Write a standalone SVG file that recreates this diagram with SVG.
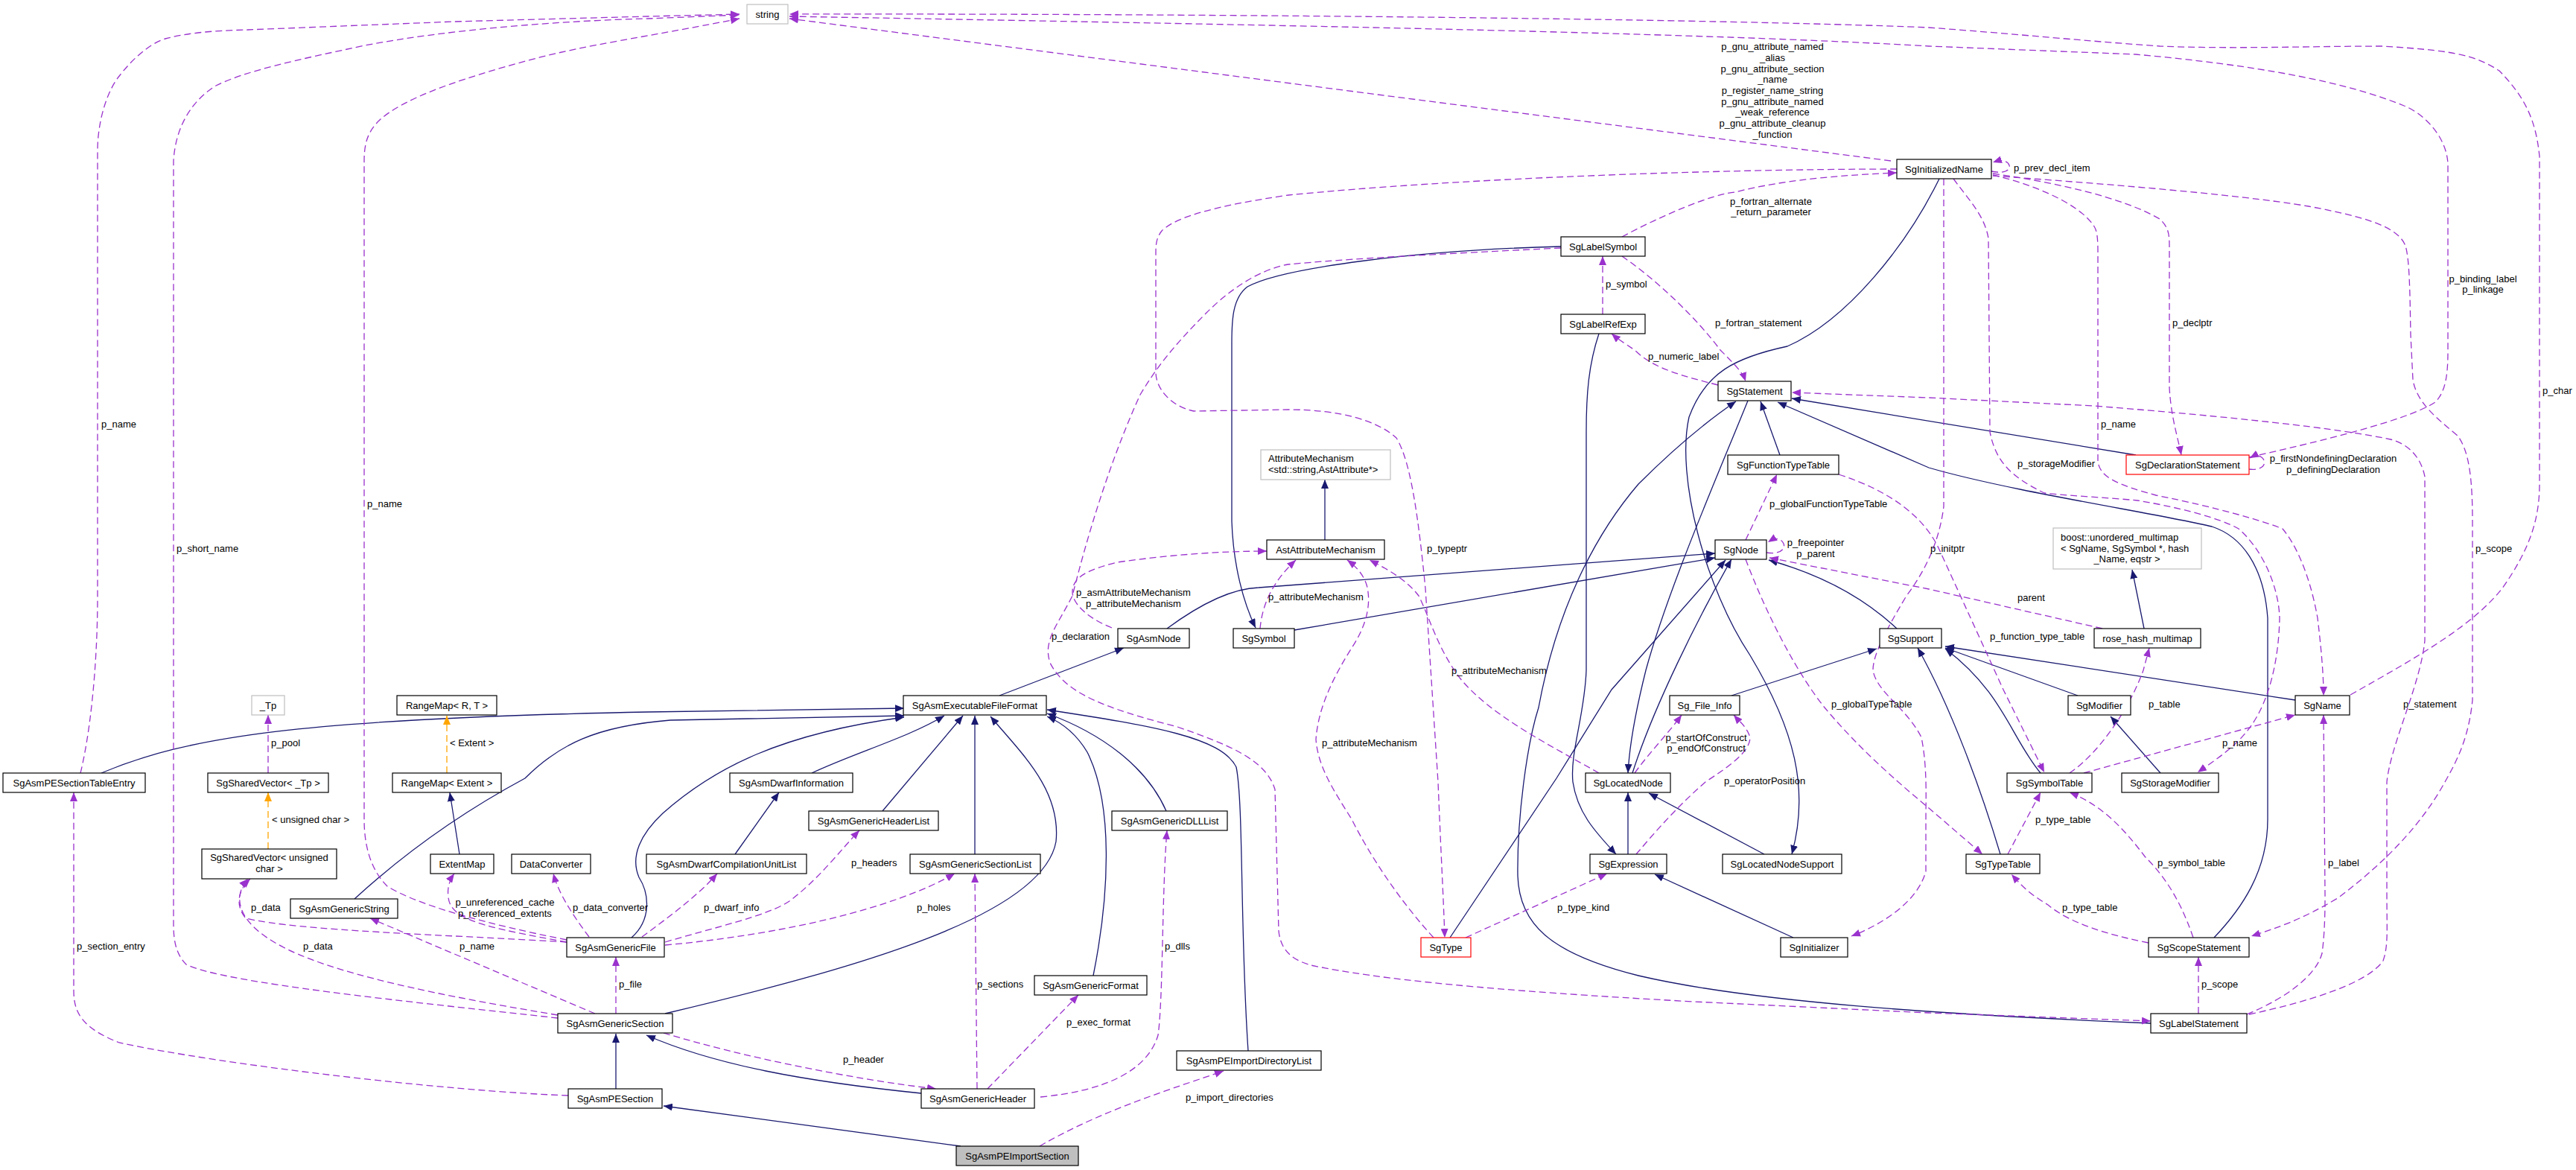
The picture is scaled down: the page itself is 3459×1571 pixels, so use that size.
<svg xmlns="http://www.w3.org/2000/svg" width="3459" height="1571" viewBox="0 0 3459 1571">
<defs>
<style>
.nd rect{fill:#fff;stroke:#000;stroke-width:1.2}
.nd.g rect{stroke:#bfbfbf}
.nd.r rect{stroke:#ff0000}
.nd.f rect{fill:#bfbfbf}
text{font-family:"Liberation Sans",Arial,sans-serif;font-size:13px;fill:#000}
.nd text{text-anchor:middle}
.e{fill:none;stroke:#191970;stroke-width:1.3;marker-end:url(#mN)}
.d{fill:none;stroke:#9a32cd;stroke-width:1.3;stroke-dasharray:9,5;marker-end:url(#mP)}
.o{fill:none;stroke:#ffa500;stroke-width:1.3;stroke-dasharray:9,5;marker-end:url(#mO)}
.c{text-anchor:middle}
</style>
<marker id="mN" markerWidth="12" markerHeight="10" refX="12" refY="5" orient="auto" markerUnits="userSpaceOnUse"><path d="M0,0 L12,5 L0,10 z" fill="#191970"/></marker>
<marker id="mP" markerWidth="12" markerHeight="10" refX="12" refY="5" orient="auto" markerUnits="userSpaceOnUse"><path d="M0,0 L12,5 L0,10 z" fill="#9a32cd"/></marker>
<marker id="mO" markerWidth="12" markerHeight="10" refX="12" refY="5" orient="auto" markerUnits="userSpaceOnUse"><path d="M0,0 L12,5 L0,10 z" fill="#ffa500"/></marker>
</defs>
<rect width="3459" height="1571" fill="#fff"/>
<g id="connectors">
<!-- inheritance -->
<path class="e" d="M1290,1539 L891,1485"/>
<path class="e" d="M827,1462 L827,1388"/>
<path class="e" d="M1237,1468 C1080,1452 960,1430 868,1390"/>
<path class="e" d="M893,1361 C1150,1300 1400,1230 1418,1130 C1425,1060 1370,1010 1330,962"/>
<path class="e" d="M848,1259 C875,1235 872,1200 858,1178 C846,1150 860,1120 890,1092 C960,1030 1050,985 1214,963"/>
<path class="e" d="M476,1207 C560,1130 640,1080 705,1045 C750,1000 800,975 900,967 L1214,961"/>
<path class="e" d="M136,1038 C250,990 400,965 870,956 L1214,951"/>
<path class="e" d="M1090,1038 C1150,1010 1220,990 1268,961"/>
<path class="e" d="M1185,1089 L1293,961"/>
<path class="e" d="M1309,1147 L1309,961"/>
<path class="e" d="M1468,1310 C1490,1200 1495,1080 1460,1010 C1445,985 1425,970 1406,962"/>
<path class="e" d="M1566,1089 C1540,1030 1480,985 1406,958"/>
<path class="e" d="M1676,1411 C1665,1250 1670,1080 1660,1030 C1640,990 1550,975 1406,953"/>
<path class="e" d="M1342,934 L1509,870"/>
<path class="e" d="M1567,844 C1620,805 1660,790 1690,789 L2303,743"/>
<path class="e" d="M1738,846 L2303,749"/>
<path class="e" d="M1779,725 L1779,644"/>
<path class="e" d="M987,1147 L1046,1064"/>
<path class="e" d="M617,1147 L604,1064"/>
<path class="e" d="M2096,331 C1900,336 1720,360 1675,385 C1655,400 1654,430 1654,460 L1654,700 C1656,760 1670,810 1686,843"/>
<path class="e" d="M2147,448 C2133,490 2130,530 2130,580 L2130,900 C2128,960 2108,1010 2112,1050 C2118,1090 2140,1115 2170,1147"/>
<path class="e" d="M2347,538 C2310,630 2240,790 2210,900 C2195,960 2188,1000 2186,1038"/>
<path class="e" d="M2192,1038 C2220,950 2280,830 2325,751"/>
<path class="e" d="M1947,1259 L2090,1045 L2164,926 L2317,752"/>
<path class="e" d="M2390,611 L2364,539"/>
<path class="e" d="M2547,844 C2500,800 2440,770 2375,752"/>
<path class="e" d="M2973,1259 C3010,1220 3045,1170 3045,1100 L3045,830 C3040,760 3010,720 2970,707 C2900,690 2700,660 2590,628 L2387,540"/>
<path class="e" d="M2868,611 L2406,535"/>
<path class="e" d="M2888,1374 C2600,1362 2350,1345 2200,1310 C2080,1280 2040,1240 2038,1176 C2037,1100 2050,1000 2066,950 C2090,820 2140,720 2200,650 C2260,590 2300,560 2331,539"/>
<path class="e" d="M2604,240 C2560,330 2480,430 2400,465 C2330,480 2290,500 2268,560 C2250,640 2290,790 2350,880 C2410,980 2430,1060 2406,1147"/>
<path class="e" d="M2186,1147 L2186,1064"/>
<path class="e" d="M2369,1147 L2214,1065"/>
<path class="e" d="M2408,1259 L2222,1174"/>
<path class="e" d="M2325,934 L2520,871"/>
<path class="e" d="M2686,1147 C2660,1060 2620,950 2575,870"/>
<path class="e" d="M2740,1038 C2700,990 2690,930 2612,871"/>
<path class="e" d="M2790,934 L2612,870"/>
<path class="e" d="M3082,940 L2612,868"/>
<path class="e" d="M2901,1038 L2834,962"/>
<path class="e" d="M2879,844 L2863,765"/>
<!-- template -->
<path class="o" d="M600,1038 L600,961"/>
<path class="o" d="M360,1140 L360,1064"/>
<!-- usage -->
<path class="d" d="M1396,1539 C1480,1490 1580,1460 1643,1438"/>
<path class="d" d="M763,1471 C600,1465 300,1430 160,1400 C110,1380 99,1360 99,1330 L99,1064"/>
<path class="d" d="M891,1387 C1000,1420 1150,1450 1257,1462"/>
<path class="d" d="M1312,1462 L1309,1173"/>
<path class="d" d="M1326,1462 L1448,1336"/>
<path class="d" d="M1397,1473 C1480,1465 1540,1440 1555,1390 C1562,1340 1560,1200 1567,1115"/>
<path class="d" d="M893,1265 C960,1245 1030,1230 1060,1210 C1100,1180 1130,1140 1154,1115"/>
<path class="d" d="M862,1258 C900,1230 940,1200 963,1173"/>
<path class="d" d="M893,1269 C1050,1255 1200,1220 1282,1173"/>
<path class="d" d="M827,1361 L827,1285"/>
<path class="d" d="M761,1265 C650,1245 605,1235 602,1205 C600,1190 605,1180 610,1173"/>
<path class="d" d="M791,1258 C770,1230 750,1200 743,1173"/>
<path class="d" d="M761,1265 C600,1255 400,1250 330,1233 C315,1215 320,1195 336,1180"/>
<path class="d" d="M749,1363 C550,1330 420,1300 360,1260 C315,1230 315,1200 333,1180"/>
<path class="d" d="M799,1361 L497,1233"/>
<path class="d" d="M749,1367 C550,1345 300,1320 250,1295 C235,1280 233,1260 233,1240 L233,216 C235,180 250,140 290,115 C330,95 400,80 490,61 C600,40 750,28 870,25 L993,20"/>
<path class="d" d="M761,1262 C650,1240 560,1215 520,1190 C495,1165 489,1130 489,1100 L489,216 C489,190 495,175 511,160 C540,135 600,110 721,78 C790,60 860,51 993,25"/>
<path class="d" d="M108,1038 C120,990 131,900 131,800 L131,203 C131,160 145,120 161,101 C185,70 210,55 222,52 C260,42 300,41 333,40 L610,29 L870,22 L993,19"/>
<path class="d" d="M360,1038 L360,960"/>
<path class="d" d="M2539,216 L1060,25"/>
<path class="d" d="M3020,614 C3150,585 3240,560 3270,540 C3285,525 3287,500 3287,470 L3287,220 C3285,180 3250,150 3228,142 C3150,110 3034,88 2868,73 L2590,62 C2300,45 1800,35 1060,22"/>
<path class="d" d="M3156,933 C3250,880 3320,840 3360,790 C3395,740 3410,700 3410,650 L3410,210 C3405,160 3390,130 3356,95 C3320,72 3290,68 3200,62 C3100,62 3000,66 2900,62 C2800,55 2700,45 2590,37 C2300,25 1600,18 1060,19"/>
<path class="d" d="M2674,230 C2692,234 2700,228 2698,222 C2696,216 2688,214 2676,218"/>
<path class="d" d="M2178,318 C2230,290 2300,260 2330,258 C2400,240 2480,235 2547,232"/>
<path class="d" d="M2547,227 C2300,227 1950,240 1730,262 C1640,275 1580,290 1560,310 C1552,320 1552,330 1552,340 L1552,500 C1552,520 1570,545 1603,552 L1730,550 C1800,550 1850,565 1875,588 C1895,620 1905,700 1914,790 L1931,1050 C1935,1150 1938,1200 1940,1259"/>
<path class="d" d="M2096,333 C1950,340 1800,348 1730,355 C1690,362 1650,390 1620,420 C1580,460 1555,490 1531,530 C1490,620 1460,720 1440,800 C1420,840 1400,860 1410,890 C1430,930 1480,950 1581,976 C1650,1000 1700,1020 1712,1060 L1717,1250 C1720,1280 1740,1290 1760,1296 C1850,1315 2000,1330 2275,1345 L2590,1360 L2888,1371"/>
<path class="d" d="M2152,422 L2152,344"/>
<path class="d" d="M2178,344 C2230,380 2280,430 2310,470 C2330,490 2340,500 2344,512"/>
<path class="d" d="M2307,517 C2260,505 2220,495 2195,470 C2180,460 2172,455 2164,448"/>
<path class="d" d="M3020,1362 C3100,1345 3180,1320 3200,1290 C3207,1270 3205,1250 3205,1200 L3205,1050 C3210,1000 3250,920 3256,860 L3256,640 C3250,610 3230,595 3210,590 C3140,575 3000,560 2812,545 L2590,534 L2406,527"/>
<path class="d" d="M3017,1362 C3070,1340 3110,1310 3118,1280 C3122,1250 3122,1220 3122,1200 L3120,960"/>
<path class="d" d="M2952,1361 L2952,1285"/>
<path class="d" d="M2676,236 C2800,245 3000,260 3100,277 C3180,292 3220,305 3230,330 C3236,350 3236,400 3237,450 L3240,510 C3245,540 3270,560 3300,585 C3315,605 3320,640 3320,700 L3320,940 C3315,990 3300,1020 3283,1050 C3250,1110 3200,1160 3139,1206 C3090,1235 3060,1245 3023,1257"/>
<path class="d" d="M2945,1259 C2925,1200 2900,1170 2880,1150 C2850,1110 2820,1080 2779,1064"/>
<path class="d" d="M2885,1266 C2830,1255 2780,1240 2750,1215 C2725,1200 2715,1190 2701,1174"/>
<path class="d" d="M2696,1147 L2740,1064"/>
<path class="d" d="M2344,751 C2370,820 2410,900 2450,950 C2500,1010 2560,1060 2590,1085 L2662,1147"/>
<path class="d" d="M2344,725 L2386,637"/>
<path class="d" d="M2372,742 C2390,745 2398,737 2395,730 C2392,723 2385,721 2374,728"/>
<path class="d" d="M2823,844 L2590,791 L2376,749"/>
<path class="d" d="M2469,637 C2540,660 2585,695 2605,740 L2690,926 L2745,1037"/>
<path class="d" d="M2610,240 L2610,680 C2605,720 2590,760 2560,800 C2530,850 2515,880 2515,900 C2520,930 2560,950 2580,990 C2588,1030 2586,1070 2586,1100 L2586,1170 C2575,1210 2530,1240 2486,1257"/>
<path class="d" d="M2676,233 C2760,245 2850,265 2900,294 C2912,305 2913,315 2913,330 L2913,520 C2915,560 2925,590 2929,611"/>
<path class="d" d="M2676,235 C2720,245 2790,270 2812,304 C2816,310 2817,320 2817,340 L2817,620 C2820,640 2840,650 2895,665 C2980,682 3040,700 3065,710 C3090,740 3105,790 3112,830 C3118,880 3120,910 3120,934"/>
<path class="d" d="M2623,240 C2645,270 2665,290 2670,320 L2672,580 C2680,620 2700,640 2745,662 C2780,666 2830,668 2870,672 C2920,680 2980,695 3006,710 C3040,740 3060,790 3061,830 C3060,880 3050,920 3039,945 C3020,990 2990,1010 2951,1037"/>
<path class="d" d="M3020,630 C3035,632 3043,625 3040,618 C3037,612 3030,610 3021,615"/>
<path class="d" d="M2195,1038 C2215,1010 2240,985 2258,960"/>
<path class="d" d="M2197,1147 C2220,1120 2250,1085 2290,1050 C2320,1030 2350,1010 2350,990 C2345,975 2335,968 2328,960"/>
<path class="d" d="M1968,1259 L2158,1173"/>
<path class="d" d="M1925,1259 C1880,1210 1840,1150 1815,1100 C1790,1060 1770,1030 1767,993 C1770,950 1790,910 1815,870 C1835,840 1842,810 1835,785 C1830,770 1820,760 1809,752"/>
<path class="d" d="M2147,1038 C2080,1000 2000,960 1960,910 C1930,870 1920,830 1905,800 C1890,780 1865,765 1839,752"/>
<path class="d" d="M1692,844 C1695,810 1710,780 1740,752"/>
<path class="d" d="M1493,843 C1460,830 1440,810 1440,795 C1440,775 1460,765 1500,755 C1570,745 1640,740 1701,740"/>
<path class="d" d="M2779,1038 C2820,1010 2860,950 2878,900 L2886,870"/>
<path class="d" d="M2798,1038 L3082,960"/>
</g>
<g id="edge-labels">
<text x="136" y="574">p_name</text>
<text x="237" y="741">p_short_name</text>
<text x="493" y="681">p_name</text>
<text x="364" y="1002">p_pool</text>
<text x="604" y="1002">&lt; Extent &gt;</text>
<text x="365" y="1105">&lt; unsigned char &gt;</text>
<text x="337" y="1223">p_data</text>
<text class="c" x="678" y="1216">p_unreferenced_cache</text>
<text class="c" x="678" y="1231">p_referenced_extents</text>
<text x="769" y="1223">p_data_converter</text>
<text x="945" y="1223">p_dwarf_info</text>
<text x="1231" y="1223">p_holes</text>
<text x="1143" y="1163">p_headers</text>
<text x="103" y="1275">p_section_entry</text>
<text x="407" y="1275">p_data</text>
<text x="617" y="1275">p_name</text>
<text x="1564" y="1275">p_dlls</text>
<text x="831" y="1326">p_file</text>
<text x="1312" y="1326">p_sections</text>
<text x="1432" y="1377">p_exec_format</text>
<text x="1132" y="1427">p_header</text>
<text x="1592" y="1478">p_import_directories</text>
<text x="1412" y="859">p_declaration</text>
<text class="c" x="1522" y="800">p_asmAttributeMechanism</text>
<text class="c" x="1522" y="815">p_attributeMechanism</text>
<text x="1703" y="806">p_attributeMechanism</text>
<text x="1916" y="741">p_typeptr</text>
<text x="1949" y="905">p_attributeMechanism</text>
<text x="1775" y="1002">p_attributeMechanism</text>
<text x="2091" y="1223">p_type_kind</text>
<text x="2376" y="681">p_globalFunctionTypeTable</text>
<text class="c" x="2438" y="733">p_freepointer</text>
<text class="c" x="2438" y="748">p_parent</text>
<text class="c" x="2291" y="995">p_startOfConstruct</text>
<text class="c" x="2291" y="1009">p_endOfConstruct</text>
<text x="2459" y="950">p_globalTypeTable</text>
<text x="2315" y="1053">p_operatorPosition</text>
<text x="2156" y="386">p_symbol</text>
<text x="2303" y="438">p_fortran_statement</text>
<text x="2213" y="483">p_numeric_label</text>
<text class="c" x="2378" y="275">p_fortran_alternate</text>
<text class="c" x="2378" y="289">_return_parameter</text>
<text class="c" x="2380" y="67">p_gnu_attribute_named</text>
<text class="c" x="2380" y="82">_alias</text>
<text class="c" x="2380" y="97">p_gnu_attribute_section</text>
<text class="c" x="2380" y="111">_name</text>
<text class="c" x="2380" y="126">p_register_name_string</text>
<text class="c" x="2380" y="141">p_gnu_attribute_named</text>
<text class="c" x="2380" y="155">_weak_reference</text>
<text class="c" x="2380" y="170">p_gnu_attribute_cleanup</text>
<text class="c" x="2380" y="185">_function</text>
<text x="2704" y="230">p_prev_decl_item</text>
<text class="c" x="3334" y="379">p_binding_label</text>
<text class="c" x="3334" y="393">p_linkage</text>
<text x="2917" y="438">p_declptr</text>
<text x="3414" y="529">p_char</text>
<text x="2821" y="574">p_name</text>
<text x="2709" y="627">p_storageModifier</text>
<text class="c" x="3133" y="620">p_firstNondefiningDeclaration</text>
<text class="c" x="3133" y="635">p_definingDeclaration</text>
<text x="2592" y="741">p_initptr</text>
<text x="3324" y="741">p_scope</text>
<text x="2709" y="807">parent</text>
<text x="2672" y="859">p_function_type_table</text>
<text x="2885" y="950">p_table</text>
<text x="3227" y="950">p_statement</text>
<text x="2984" y="1002">p_name</text>
<text x="2733" y="1105">p_type_table</text>
<text x="2897" y="1163">p_symbol_table</text>
<text x="3126" y="1163">p_label</text>
<text x="2769" y="1223">p_type_table</text>
<text x="2956" y="1326">p_scope</text>
</g>
<g id="n_string" class="nd g"><rect x="1003" y="6" width="55" height="26"/><text x="1030.5" y="23.5">string</text></g>
<g id="n_SgInitializedName" class="nd"><rect x="2547" y="214" width="127" height="26"/><text x="2610.5" y="231.5">SgInitializedName</text></g>
<g id="n_SgLabelSymbol" class="nd"><rect x="2096" y="318" width="113" height="26"/><text x="2152.5" y="335.5">SgLabelSymbol</text></g>
<g id="n_SgLabelRefExp" class="nd"><rect x="2096" y="422" width="113" height="26"/><text x="2152.5" y="439.5">SgLabelRefExp</text></g>
<g id="n_SgStatement" class="nd"><rect x="2307" y="512" width="98" height="26"/><text x="2356" y="529.5">SgStatement</text></g>
<g id="n_SgFunctionTypeTable" class="nd"><rect x="2320" y="611" width="149" height="26"/><text x="2394.5" y="628.5">SgFunctionTypeTable</text></g>
<g id="n_SgDeclarationStatement" class="nd r"><rect x="2855" y="611" width="165" height="26"/><text x="2937.5" y="628.5">SgDeclarationStatement</text></g>
<g id="n_AttributeMechanism" class="nd g"><rect x="1693" y="604" width="174" height="40"/><text x="1703" y="620" style="text-anchor:start">AttributeMechanism</text><text x="1703" y="635" style="text-anchor:start">&lt;std::string,AstAttribute*&gt;</text></g>
<g id="n_AstAttributeMechanism" class="nd"><rect x="1701" y="725" width="158" height="26"/><text x="1780" y="742.5">AstAttributeMechanism</text></g>
<g id="n_SgNode" class="nd"><rect x="2303" y="725" width="69" height="26"/><text x="2337.5" y="742.5">SgNode</text></g>
<g id="n_boost_unordered_multimap" class="nd g"><rect x="2757" y="709" width="199" height="55"/><text x="2767" y="726" style="text-anchor:start">boost::unordered_multimap</text><text x="2767" y="741" style="text-anchor:start">&lt; SgName, SgSymbol *, hash</text><text x="2856" y="755">_Name, eqstr &gt;</text></g>
<g id="n_SgAsmNode" class="nd"><rect x="1501" y="844" width="96" height="26"/><text x="1549" y="861.5">SgAsmNode</text></g>
<g id="n_SgSymbol" class="nd"><rect x="1656" y="844" width="82" height="26"/><text x="1697" y="861.5">SgSymbol</text></g>
<g id="n_SgSupport" class="nd"><rect x="2524" y="844" width="83" height="26"/><text x="2565.5" y="861.5">SgSupport</text></g>
<g id="n_rose_hash_multimap" class="nd"><rect x="2812" y="844" width="143" height="26"/><text x="2883.5" y="861.5">rose_hash_multimap</text></g>
<g id="n_Tp" class="nd g"><rect x="338" y="934" width="44" height="26"/><text x="360" y="951.5">_Tp</text></g>
<g id="n_RangeMap_R_T" class="nd"><rect x="533" y="934" width="134" height="26"/><text x="600" y="951.5">RangeMap&lt; R, T &gt;</text></g>
<g id="n_SgAsmExecutableFileFormat" class="nd"><rect x="1213" y="934" width="192" height="26"/><text x="1309" y="951.5">SgAsmExecutableFileFormat</text></g>
<g id="n_Sg_File_Info" class="nd"><rect x="2242" y="934" width="94" height="26"/><text x="2289" y="951.5">Sg_File_Info</text></g>
<g id="n_SgModifier" class="nd"><rect x="2777" y="934" width="84" height="26"/><text x="2819" y="951.5">SgModifier</text></g>
<g id="n_SgName" class="nd"><rect x="3082" y="934" width="73" height="26"/><text x="3118.5" y="951.5">SgName</text></g>
<g id="n_SgAsmPESectionTableEntry" class="nd"><rect x="4" y="1038" width="191" height="26"/><text x="99.5" y="1055.5">SgAsmPESectionTableEntry</text></g>
<g id="n_SgSharedVector_Tp" class="nd"><rect x="279" y="1038" width="162" height="26"/><text x="360" y="1055.5">SgSharedVector&lt; _Tp &gt;</text></g>
<g id="n_RangeMap_Extent" class="nd"><rect x="527" y="1038" width="146" height="26"/><text x="600" y="1055.5">RangeMap&lt; Extent &gt;</text></g>
<g id="n_SgAsmDwarfInformation" class="nd"><rect x="980" y="1038" width="165" height="26"/><text x="1062.5" y="1055.5">SgAsmDwarfInformation</text></g>
<g id="n_SgLocatedNode" class="nd"><rect x="2129" y="1038" width="114" height="26"/><text x="2186" y="1055.5">SgLocatedNode</text></g>
<g id="n_SgSymbolTable" class="nd"><rect x="2695" y="1038" width="114" height="26"/><text x="2752" y="1055.5">SgSymbolTable</text></g>
<g id="n_SgStorageModifier" class="nd"><rect x="2849" y="1038" width="130" height="26"/><text x="2914" y="1055.5">SgStorageModifier</text></g>
<g id="n_SgAsmGenericHeaderList" class="nd"><rect x="1086" y="1089" width="174" height="26"/><text x="1173" y="1106.5">SgAsmGenericHeaderList</text></g>
<g id="n_SgAsmGenericDLLList" class="nd"><rect x="1493" y="1089" width="155" height="26"/><text x="1570.5" y="1106.5">SgAsmGenericDLLList</text></g>
<g id="n_SgSharedVector_uchar" class="nd"><rect x="271" y="1140" width="181" height="40"/><text x="361.5" y="1156">SgSharedVector&lt; unsigned</text><text x="361.5" y="1171">char &gt;</text></g>
<g id="n_ExtentMap" class="nd"><rect x="578" y="1147" width="85" height="26"/><text x="620.5" y="1164.5">ExtentMap</text></g>
<g id="n_DataConverter" class="nd"><rect x="687" y="1147" width="106" height="26"/><text x="740" y="1164.5">DataConverter</text></g>
<g id="n_SgAsmDwarfCompilationUnitList" class="nd"><rect x="868" y="1147" width="215" height="26"/><text x="975.5" y="1164.5">SgAsmDwarfCompilationUnitList</text></g>
<g id="n_SgAsmGenericSectionList" class="nd"><rect x="1222" y="1147" width="175" height="26"/><text x="1309.5" y="1164.5">SgAsmGenericSectionList</text></g>
<g id="n_SgExpression" class="nd"><rect x="2135" y="1147" width="103" height="26"/><text x="2186.5" y="1164.5">SgExpression</text></g>
<g id="n_SgLocatedNodeSupport" class="nd"><rect x="2313" y="1147" width="160" height="26"/><text x="2393" y="1164.5">SgLocatedNodeSupport</text></g>
<g id="n_SgTypeTable" class="nd"><rect x="2640" y="1147" width="99" height="26"/><text x="2689.5" y="1164.5">SgTypeTable</text></g>
<g id="n_SgAsmGenericString" class="nd"><rect x="390" y="1207" width="144" height="26"/><text x="462" y="1224.5">SgAsmGenericString</text></g>
<g id="n_SgAsmGenericFile" class="nd"><rect x="761" y="1259" width="131" height="26"/><text x="826.5" y="1276.5">SgAsmGenericFile</text></g>
<g id="n_SgType" class="nd r"><rect x="1908" y="1259" width="67" height="26"/><text x="1941.5" y="1276.5">SgType</text></g>
<g id="n_SgInitializer" class="nd"><rect x="2391" y="1259" width="90" height="26"/><text x="2436" y="1276.5">SgInitializer</text></g>
<g id="n_SgScopeStatement" class="nd"><rect x="2885" y="1259" width="135" height="26"/><text x="2952.5" y="1276.5">SgScopeStatement</text></g>
<g id="n_SgAsmGenericFormat" class="nd"><rect x="1389" y="1310" width="151" height="26"/><text x="1464.5" y="1327.5">SgAsmGenericFormat</text></g>
<g id="n_SgAsmGenericSection" class="nd"><rect x="749" y="1361" width="154" height="26"/><text x="826" y="1378.5">SgAsmGenericSection</text></g>
<g id="n_SgLabelStatement" class="nd"><rect x="2888" y="1361" width="129" height="26"/><text x="2952.5" y="1378.5">SgLabelStatement</text></g>
<g id="n_SgAsmPEImportDirectoryList" class="nd"><rect x="1580" y="1411" width="194" height="26"/><text x="1677" y="1428.5">SgAsmPEImportDirectoryList</text></g>
<g id="n_SgAsmPESection" class="nd"><rect x="763" y="1462" width="126" height="26"/><text x="826" y="1479.5">SgAsmPESection</text></g>
<g id="n_SgAsmGenericHeader" class="nd"><rect x="1237" y="1462" width="152" height="26"/><text x="1313" y="1479.5">SgAsmGenericHeader</text></g>
<g id="n_SgAsmPEImportSection" class="nd f"><rect x="1284" y="1539" width="164" height="26"/><text x="1366" y="1556.5">SgAsmPEImportSection</text></g>
</svg>
